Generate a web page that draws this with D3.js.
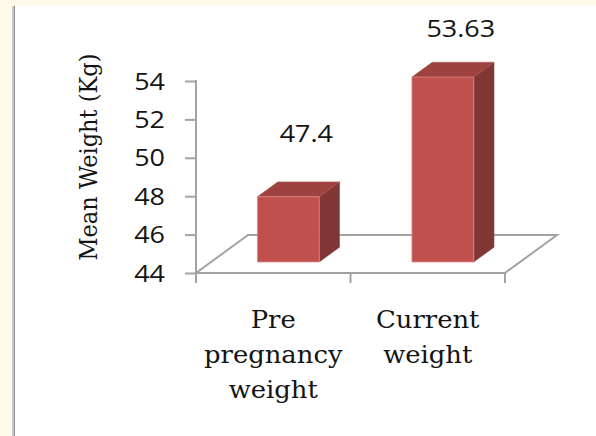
<!DOCTYPE html>
<html>
<head>
<meta charset="utf-8">
<script src="https://cdn.jsdelivr.net/npm/d3@7"></script>
<style>
  html, body { margin: 0; padding: 0; background: #fff; }
  svg { display: block; }
</style>
</head>
<body>
<script>
// Mean weight before pregnancy and at present, as a 3-D column chart
const categories = ["Pre pregnancy weight", "Current weight"];
const values = [47.4, 53.63];
const valueLabels = ["47.4", "53.63"];
const yTicks = [44, 46, 48, 50, 52, 54];
const yTitle = "Mean Weight (Kg)";

const W = 596, H = 436;
const svg = d3.select("body").append("svg").attr("width", W).attr("height", H);

// page frame: cream margin and a grey rule on the left
svg.append("rect").attr("width", W).attr("height", H).attr("fill", "#fffaea");
svg.append("rect").attr("x", 15).attr("y", 6).attr("width", W - 15).attr("height", H - 6).attr("fill", "#ffffff");
svg.append("rect").attr("x", 12).attr("y", 6).attr("width", 2).attr("height", H - 6).attr("fill", "#c8c8c8");
svg.append("rect").attr("x", 14).attr("y", 6).attr("width", 1).attr("height", H - 6).attr("fill", "#8f8f8f");

// front plane scales
const x = d3.scaleBand().domain(categories).range([196, 505]).paddingInner(0.6).paddingOuter(0.3);
const y = d3.scaleLinear().domain([44, 54]).range([273, 81]);
// label anchors sit on a slightly compressed scale above the columns
const yLabel = d3.scaleLinear().domain([44, 54]).range([199.5, 30.5]);

// depth of the floor and the slab the columns occupy within it
const depth = { dx: 52, dy: -38 };
const slab = [0.29, 0.68];
const proj = (px, py, d) => [px + depth.dx * d, py + depth.dy * d];

const grey = "#a3a3a3";
const [x0, x1] = x.range();
const y0 = y(44);

// floor
const floor = [proj(x0, y0, 0), proj(x1, y0, 0), proj(x1, y0, 1), proj(x0, y0, 1)];
svg.append("path")
  .attr("d", d3.line()(floor) + "Z")
  .attr("fill", "#fff").attr("stroke", grey).attr("stroke-width", 2)
  .attr("stroke-linejoin", "miter");

// value axis
const axisG = svg.append("g").attr("transform", `translate(${x0},0)`);
axisG.call(d3.axisLeft(y).tickValues(yTicks).tickSize(11).tickFormat(""));
axisG.select(".domain").remove();
axisG.selectAll(".tick line").attr("stroke", grey).attr("stroke-width", 2);
svg.append("line").attr("x1", x0).attr("x2", x0).attr("y1", y(54) - 1).attr("y2", y0 + 10)
  .attr("stroke", grey).attr("stroke-width", 2);

// category ticks under the front edge
const catEdges = [x0, (x0 + x1) / 2, x1];
svg.selectAll("line.cat").data(catEdges).join("line")
  .attr("class", "cat")
  .attr("x1", d => d).attr("x2", d => d)
  .attr("y1", y0).attr("y2", y0 + 10)
  .attr("stroke", grey).attr("stroke-width", 2);

// helper for slightly widened text
function wideText(sel, tx, ty, str, opts) {
  const t = sel.append("text")
    .attr("transform", `translate(${tx},${ty}) scale(${opts.sx || 1},1)`)
    .attr("font-family", opts.family)
    .attr("font-size", opts.size)
    .attr("text-anchor", opts.anchor || "middle")
    .attr("fill", "#141414")
    .text(str);
  if (opts.weight) t.attr("font-weight", opts.weight);
  return t;
}

const numFont = { family: "'Open Sans', sans-serif", size: 23, sx: 1.17, weight: 500 };

// tick labels
yTicks.forEach(v => {
  wideText(svg, 165, y(v) + 8.5, String(v), { ...numFont, anchor: "end" });
});

// axis title
svg.append("text")
  .attr("transform", `translate(97,157) rotate(-90) scale(1,1.1)`)
  .attr("font-family", "'DejaVu Serif', serif")
  .attr("font-size", 22.5)
  .attr("text-anchor", "middle")
  .attr("fill", "#141414")
  .text(yTitle);

// columns
const colFront = "#c0504d", colTop = "#9d423f", colSide = "#7f3634";
categories.forEach((c, i) => {
  const bx0 = x(c), bx1 = x(c) + x.bandwidth();
  const top = y(values[i]), bot = y(44);
  const g = svg.append("g");
  const [a, b] = slab;
  const fr = [proj(bx0, bot, a), proj(bx1, bot, a), proj(bx1, top, a), proj(bx0, top, a)];
  const tp = [proj(bx0, top, a), proj(bx1, top, a), proj(bx1, top, b), proj(bx0, top, b)];
  const sd = [proj(bx1, bot, a), proj(bx1, bot, b), proj(bx1, top, b), proj(bx1, top, a)];
  g.append("path").attr("d", d3.line()(sd) + "Z").attr("fill", colSide)
    .attr("stroke", "#8a4a48").attr("stroke-width", 0.6);
  g.append("path").attr("d", d3.line()(tp) + "Z").attr("fill", colTop)
    .attr("stroke", "#a85855").attr("stroke-width", 0.6);
  g.append("path").attr("d", d3.line()(fr) + "Z").attr("fill", colFront)
    .attr("stroke", "#d98c89").attr("stroke-width", 0.8);

  // value label above the column
  const lx = x(c) + x.bandwidth() / 2 + 33;
  wideText(svg, lx, yLabel(values[i]), valueLabels[i], numFont);

  // category label, one word per line
  const words = c.split(" ");
  words.forEach((w, k) => {
    wideText(svg, x(c) + x.bandwidth() / 2, 328 + k * 35, w,
      { family: "'DejaVu Serif', serif", size: 23.5, sx: 1.1 });
  });
});
</script>
</body>
</html>
